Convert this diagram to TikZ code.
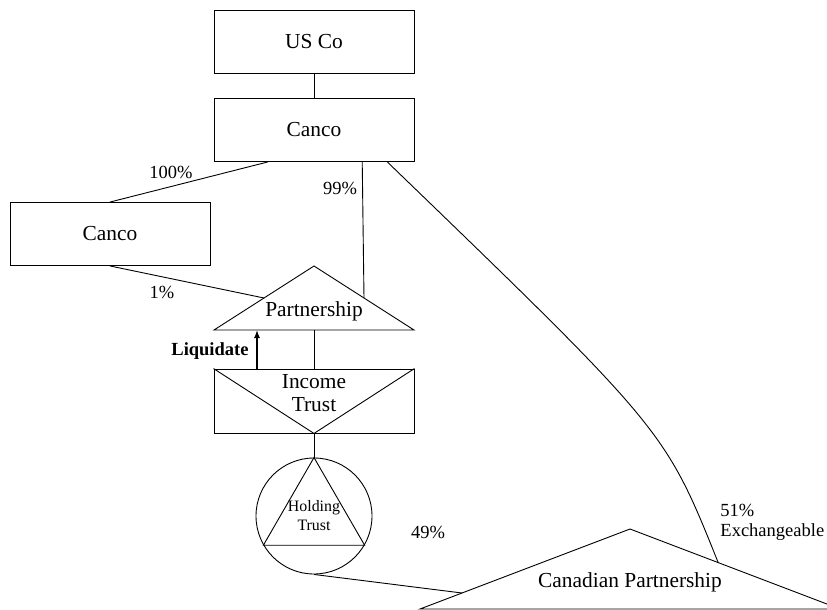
\documentclass[tikz,border=0pt]{standalone}
\usepackage{fontspec}
\setmainfont{Liberation Serif}
\usetikzlibrary{calc,arrows.meta}
\begin{document}
\begin{tikzpicture}[x=1pt,y=-1pt,line width=0.9pt,
  box/.style={draw,rectangle,minimum width=200pt,minimum height=63pt,inner sep=0pt,
    font=\fontsize{21.4}{25}\selectfont},
  big/.style={inner sep=0pt,align=center,font=\fontsize{21.4}{23}\selectfont},
  small/.style={inner sep=0pt,align=center,font=\fontsize{15.9}{19}\selectfont},
  lbl/.style={inner sep=0pt,align=left,font=\fontsize{18.5}{22}\selectfont}]
\useasboundingbox (0,0) rectangle (827,610);

% companies
\node[box] (usco) at (314,41.5) {US Co};
\node[box] (canco) at (314,130) {Canco};
\node[box] (cancob) at (110,234) {Canco};

% partnership triangle
\coordinate (pA) at (314,266);
\coordinate (pL) at (214,330);
\coordinate (pR) at (414,330);
\draw (pA) -- (pL) -- (pR) -- cycle;
\node[big] (part) at (314,311) {Partnership};

% income trust: box with inverted triangle
\node[box,minimum height=64pt] (itrust) at (314,401) {};
\draw (itrust.north west) -- (itrust.south) -- (itrust.north east);
\node[big] (itext) at (314,393) {Income\\Trust};

% holding trust: circle with inscribed triangle
\node[draw,circle,minimum size=116pt,inner sep=0pt] (hold) at (314,516) {};
\draw (hold.north) -- (hold.210) -- (hold.330) -- cycle;
\node[small] (htext) at (314,516) {Holding\\Trust};

% canadian partnership triangle
\coordinate (cA) at (630,529);
\coordinate (cL) at (420,609);
\coordinate (cR) at (840,609);
\draw (cA) -- (cL) -- (cR) -- cycle;
\node[big] (cpart) at (630,582) {Canadian Partnership};

% ownership lines
\draw (usco.south) -- (canco.north);
\draw (cancob.north) -- ($(canco.south west)!0.27!(canco.south east)$);
\draw (cancob.south) -- ($(pA)!0.5!(pL)$);
\draw ($(canco.south west)!0.74!(canco.south east)$) -- ($(pA)!0.5!(pR)$);
\draw ($(pL)!0.5!(pR)$) -- (itrust.north);
\draw (itrust.south) -- (hold.north);
\draw (hold.south) -- ($(cA)!0.8!(cL)$);
\draw ($(canco.south west)!0.865!(canco.south east)$)
  .. controls (665,430) .. ($(cA)!0.42!(cR)$);

% liquidation arrow
\coordinate (lqS) at (257,369);
\coordinate (lqE) at (257,330);
\draw[line width=1.3pt,-{Latex[length=8pt,width=6pt]}] (lqS) -- (lqE);
\node[lbl,anchor=east,font=\fontsize{18.5}{22}\selectfont\bfseries] (liq) at (249,351) {Liquidate};

% percentages
\node[lbl] (p100) at (171,172) {100\%};
\node[lbl] (p1) at (162,292) {1\%};
\node[lbl] (p99) at (340,188) {99\%};
\node[lbl] (p49) at (428,532) {49\%};
\node[lbl,anchor=west] (p51) at (720,510) {51\%};
\node[lbl,anchor=west] (pex) at (720,532) {Exchangeable};
\end{tikzpicture}
\end{document}
